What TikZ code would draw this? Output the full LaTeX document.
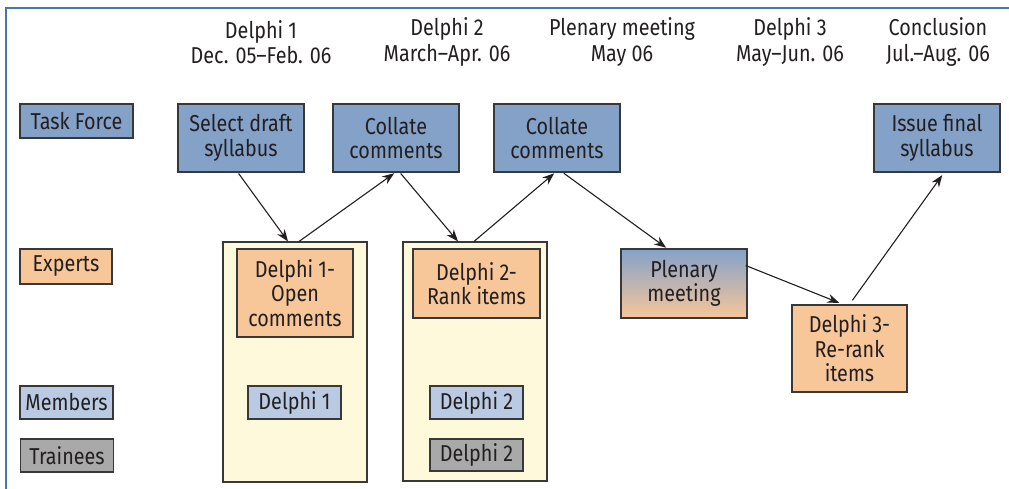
\documentclass[tikz,border=0pt]{standalone}
\usepackage{fontspec}
\setmainfont{Fira Sans}[FakeStretch=0.86]
\usetikzlibrary{arrows.meta}
\definecolor{tfblue}{HTML}{84A2C8}
\definecolor{exorange}{HTML}{F7C699}
\definecolor{memblue}{HTML}{B9CAE2}
\definecolor{trgray}{HTML}{A9A9A9}
\definecolor{panelyel}{HTML}{FFF9DC}
\definecolor{framecol}{HTML}{4677AE}
\definecolor{boxline}{HTML}{383838}
\definecolor{txt}{HTML}{231F20}
\tikzset{
  box/.style={draw=boxline, line width=1.3pt, inner sep=0pt, align=center, text=txt,
    font=\fontsize{23}{24.5}\selectfont},
  tfbox/.style={box, fill=tfblue},
  exbox/.style={box, fill=exorange},
  membox/.style={box, fill=memblue},
  trbox/.style={box, fill=trgray},
  panel/.style={draw=boxline, line width=1.1pt, fill=panelyel, inner sep=0pt},
  head/.style={align=center, text=txt, font=\fontsize{23}{25.5}\selectfont},
  conn/.style={line width=1.1pt, draw=txt, -{Stealth[length=12pt,width=9pt]}}
}
\begin{document}
\begin{tikzpicture}[x=1pt,y=-1pt]
\useasboundingbox (0,0) rectangle (1009,489);
% frame
\draw[framecol, line width=1.6pt] (6,489) -- (6,8) -- (1009,8);
% headers
\node[head] (h1) at (261,42) {Delphi 1\\Dec. 05--Feb. 06};
\node[head] (h2) at (447,42) {Delphi 2\\March--Apr. 06};
\node[head] (h3) at (622,42) {Plenary meeting\\May 06};
\node[head] (h4) at (790,42) {Delphi 3\\May--Jun. 06};
\node[head] (h5) at (938,42) {Conclusion\\Jul.--Aug. 06};
% legend
\node[tfbox, minimum width=113pt, minimum height=34pt] (ltf) at (76.5,121) {Task Force};
\node[exbox, minimum width=92pt, minimum height=35pt] (lex) at (66,266.5) {Experts};
\node[membox, minimum width=93pt, minimum height=33pt] (lmem) at (66.5,402.5) {Members};
\node[trbox, minimum width=93pt, minimum height=33pt] (ltr) at (67,455.5) {Trainees};
% panels
\node[panel, minimum width=144pt, minimum height=240pt] (p1) at (295,362) {};
\node[panel, minimum width=144pt, minimum height=239pt] (p2) at (475,361.5) {};
% task force row
\node[tfbox, minimum width=126pt, minimum height=68pt] (sel) at (241,138) {Select draft\\syllabus};
\node[tfbox, minimum width=126pt, minimum height=68pt] (col1) at (396,138) {Collate\\comments};
\node[tfbox, minimum width=126pt, minimum height=68pt] (col2) at (557,138) {Collate\\comments};
\node[tfbox, minimum width=126pt, minimum height=68pt] (iss) at (937,138) {Issue final\\syllabus};
% experts row
\node[exbox, minimum width=116pt, minimum height=88pt] (d1o) at (295,293) {Delphi 1-\\Open\\comments};
\node[exbox, minimum width=127pt, minimum height=69pt] (d2r) at (476.5,283.5) {Delphi 2-\\Rank items};
\node[box, top color=tfblue, bottom color=exorange, minimum width=126pt, minimum height=69pt] (plen) at (684,283.5) {Plenary\\meeting};
\node[exbox, minimum width=115pt, minimum height=87pt] (d3) at (849.5,348.5) {Delphi 3-\\Re-rank\\items};
% members / trainees
\node[membox, minimum width=93pt, minimum height=33pt] (d1m) at (294.5,402.5) {Delphi 1};
\node[membox, minimum width=93pt, minimum height=33pt] (d2m) at (476.5,402.5) {Delphi 2};
\node[trbox, minimum width=93pt, minimum height=32pt] (d2t) at (476.5,455) {Delphi 2};
% connectors
\draw[conn, shorten <=1pt] ([xshift=-3pt]sel.south) -- ([xshift=-7pt]p1.north);
\draw[conn, shorten >=1pt] ([xshift=4pt]p1.north) -- ([xshift=-1pt]col1.south);
\draw[conn, shorten <=1pt] ([xshift=4pt]col1.south) -- ([xshift=-17pt]p2.north);
\draw[conn, shorten >=1pt] ([xshift=-1pt]p2.north) -- ([xshift=-2pt]col2.south);
\draw[conn, shorten <=1pt, shorten >=1pt] ([xshift=6pt]col2.south) -- ([xshift=-17pt]plen.north);
\draw[conn, shorten >=4pt] ([xshift=-2pt,yshift=18pt]plen.east) -- ([xshift=-6.5pt]d3.north);
\draw[conn, shorten <=5pt, shorten >=3pt] (d3.north) -- ([xshift=7pt]iss.south);
\end{tikzpicture}
\end{document}
